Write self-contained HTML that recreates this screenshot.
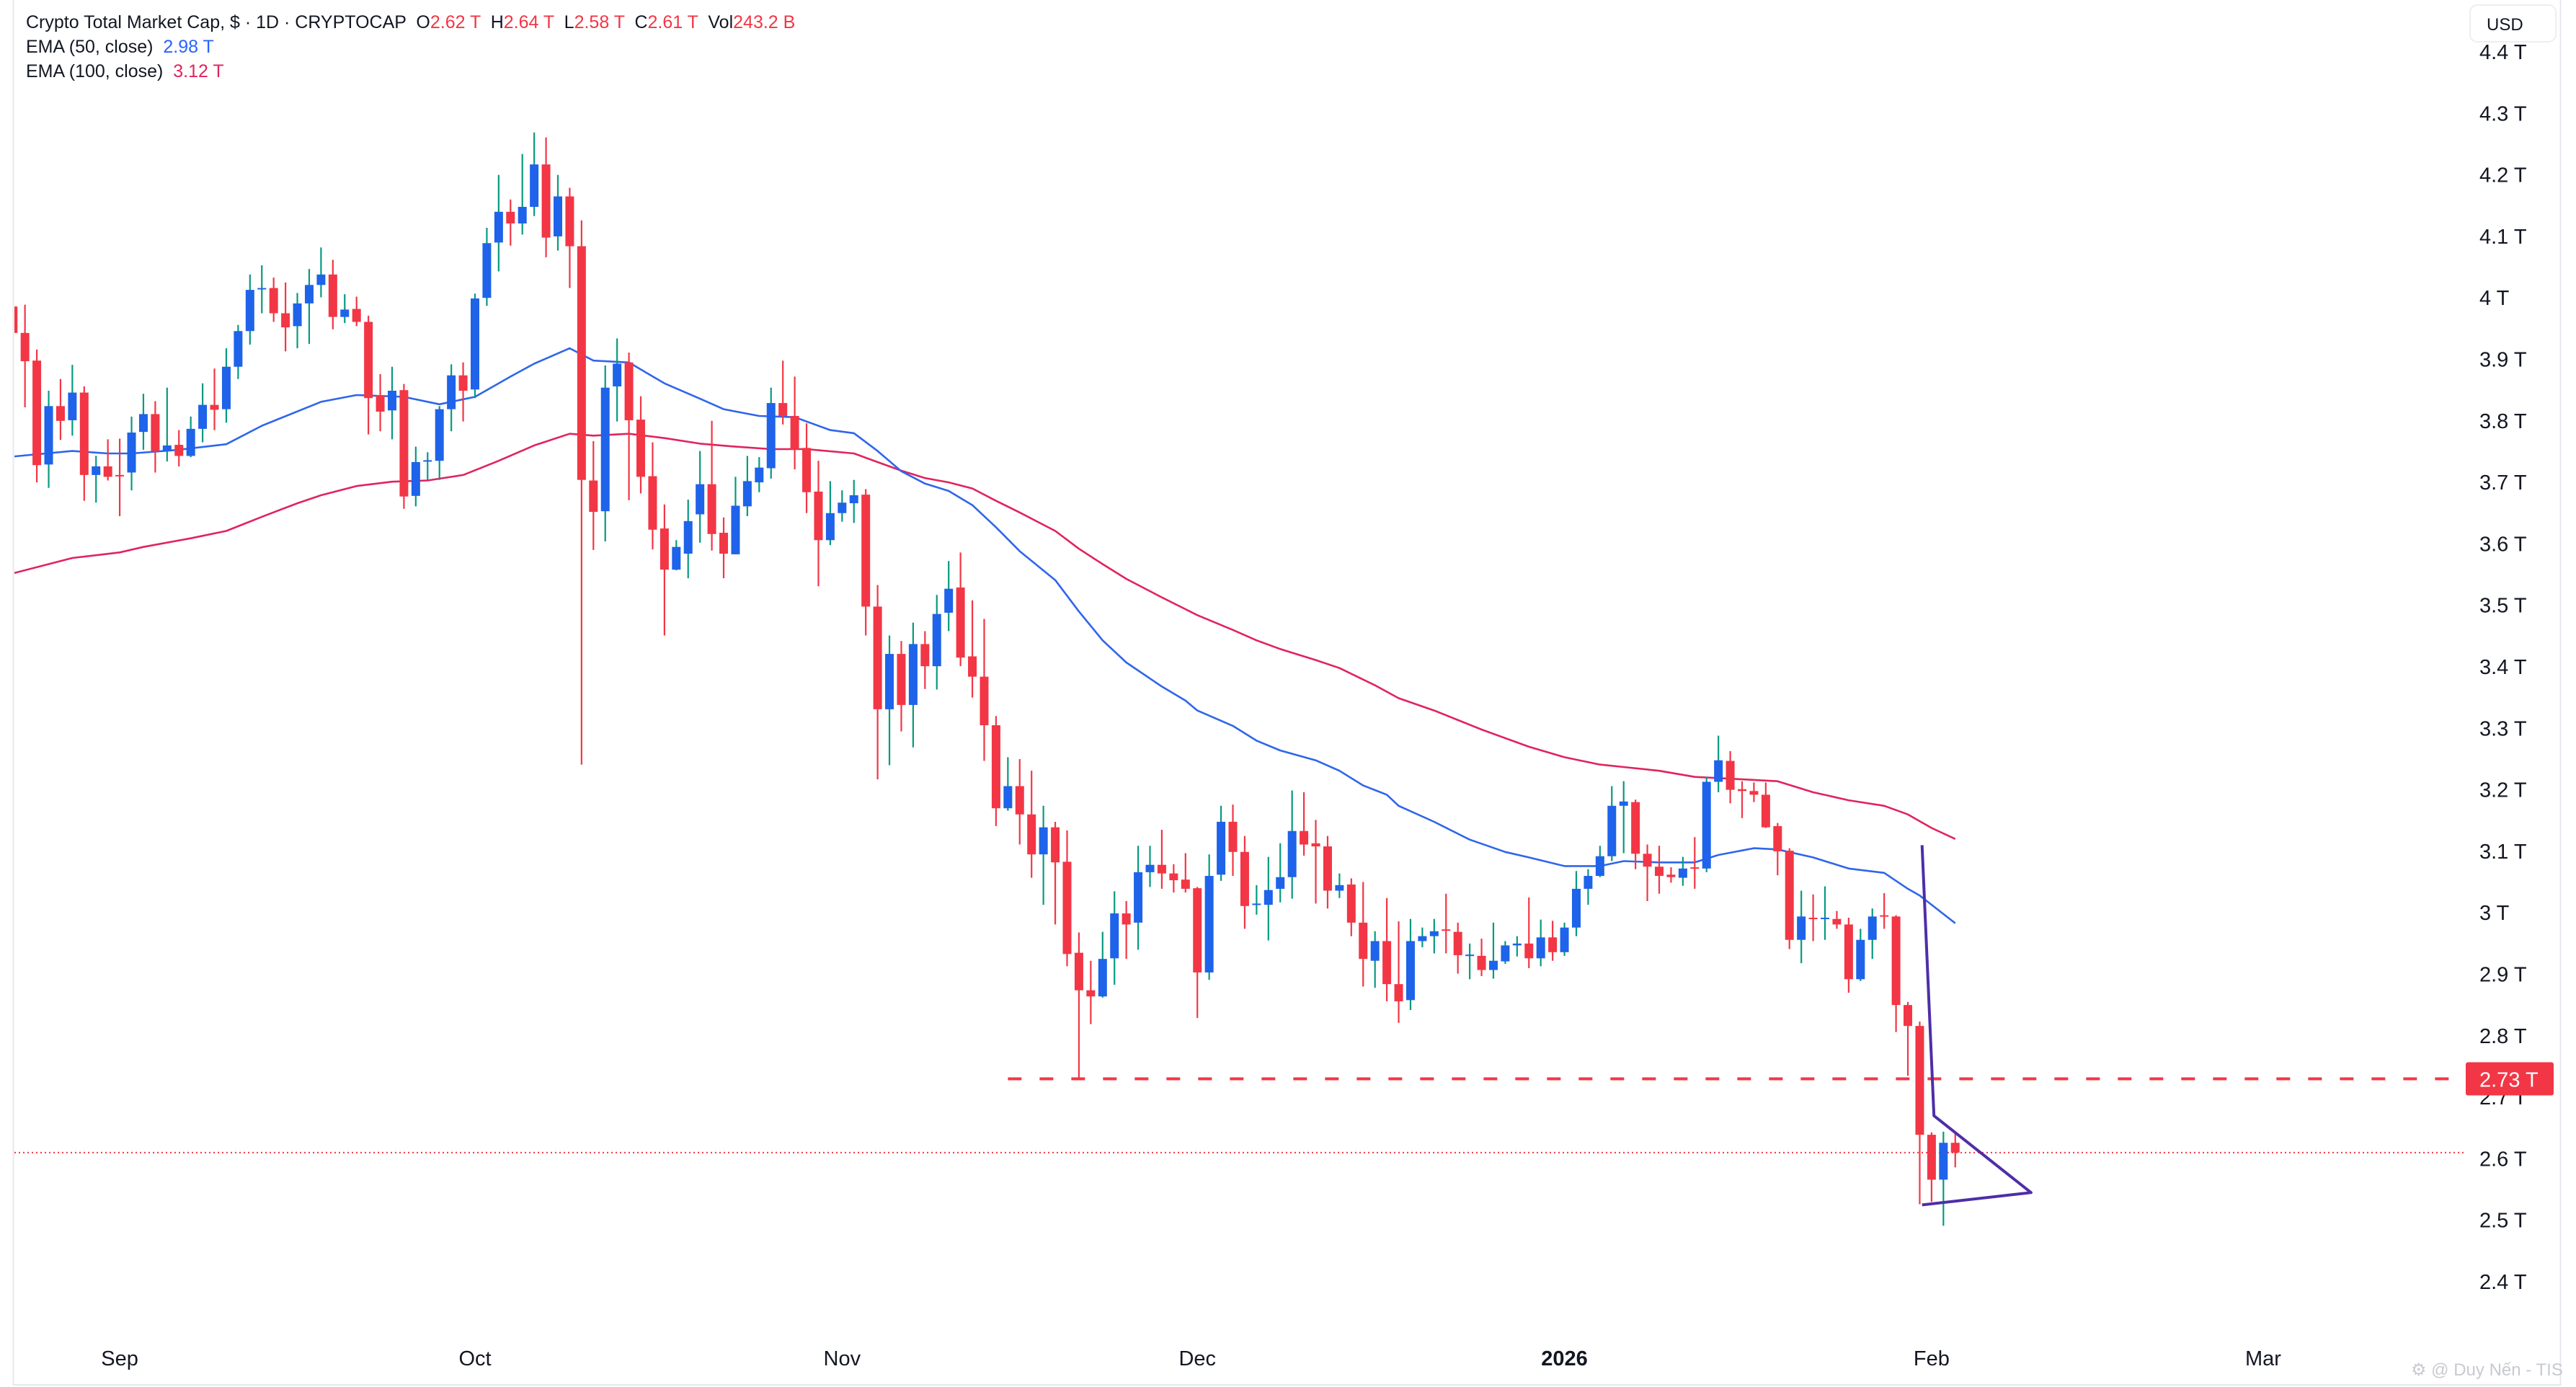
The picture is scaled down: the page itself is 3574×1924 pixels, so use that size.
<!DOCTYPE html>
<html><head><meta charset="utf-8"><style>
html,body{margin:0;padding:0;background:#fff;}
svg{display:block;font-family:"Liberation Sans",sans-serif;}
.pre{white-space:pre;}
</style></head><body>
<svg id="chart" width="3574" height="1924" viewBox="0 0 3574 1924" xmlns="http://www.w3.org/2000/svg">
<rect x="0" y="0" width="3574" height="1924" fill="#fff"/>
<rect x="18.5" y="-2" width="3534" height="1923" fill="none" stroke="#e6e8ee" stroke-width="2"/>
<g id="plot"></g>
<g id="axis"></g>
<g id="taxis"></g>
<g font-size="25">
<text class="pre" x="36" y="39" fill="#131722" xml:space="preserve">Crypto Total Market Cap, $ · 1D · CRYPTOCAP  O<tspan fill="#f23645">2.62 T</tspan>  H<tspan fill="#f23645">2.64 T</tspan>  L<tspan fill="#f23645">2.58 T</tspan>  C<tspan fill="#f23645">2.61 T</tspan>  Vol<tspan fill="#f23645">243.2 B</tspan></text>
<text class="pre" x="36" y="73" fill="#131722" xml:space="preserve">EMA (50, close)  <tspan fill="#2962ff">2.98 T</tspan></text>
<text class="pre" x="36" y="107" fill="#131722" xml:space="preserve">EMA (100, close)  <tspan fill="#e0245e">3.12 T</tspan></text>
</g>
<g>
<rect x="3427" y="7" width="119" height="51" rx="10" fill="#fff" stroke="#eceef2" stroke-width="2"/>
<text x="3450" y="42" font-size="24" fill="#131722">USD</text>
</g>
<text x="3345" y="1908" font-size="24" fill="#c8cad0">⚙ @ Duy Nến - TIS</text>
</svg>
<script>
const opens=[3.986,3.943,3.898,3.729,3.824,3.801,3.846,3.712,3.726,3.712,3.716,3.782,3.811,3.751,3.761,3.743,3.787,3.826,3.819,3.888,3.946,4.015,4.016,3.975,3.954,3.991,4.021,4.038,3.969,3.982,3.961,3.842,3.817,3.850,3.678,3.736,3.735,3.819,3.874,3.851,4.000,4.090,4.140,4.121,4.148,4.217,4.100,4.165,4.084,3.703,3.653,3.856,3.895,3.802,3.710,3.625,3.558,3.584,3.648,3.697,3.618,3.583,3.661,3.700,3.723,3.829,3.808,3.756,3.685,3.606,3.650,3.666,3.680,3.498,3.331,3.421,3.338,3.437,3.401,3.488,3.529,3.417,3.384,3.305,3.170,3.206,3.160,3.095,3.139,3.083,2.935,2.874,2.864,2.926,2.999,2.984,3.066,3.078,3.064,3.054,3.040,2.903,3.062,3.148,3.099,3.013,3.013,3.039,3.058,3.133,3.113,3.108,3.036,3.046,2.984,2.922,2.954,2.884,2.858,2.954,2.962,2.973,2.969,2.931,2.930,2.907,2.921,2.947,2.950,2.926,2.960,2.936,2.976,3.039,3.060,3.092,3.174,3.180,3.096,3.075,3.062,3.057,3.074,3.072,3.213,3.247,3.201,3.198,3.192,3.141,3.101,2.956,2.992,2.991,2.990,2.981,2.892,2.956,2.996,2.994,2.850,2.816,2.639,2.566,2.626];
const highs=[3.996,3.989,3.916,3.849,3.868,3.891,3.856,3.743,3.770,3.771,3.807,3.844,3.832,3.854,3.785,3.807,3.861,3.885,3.918,3.956,4.038,4.053,4.033,4.025,4.008,4.047,4.082,4.062,4.006,4.002,3.971,3.876,3.888,3.860,3.758,3.749,3.824,3.892,3.895,4.007,4.114,4.200,4.160,4.234,4.269,4.261,4.200,4.179,4.126,3.767,3.890,3.934,3.911,3.840,3.765,3.664,3.606,3.672,3.751,3.800,3.643,3.709,3.743,3.741,3.854,3.898,3.872,3.796,3.735,3.702,3.687,3.704,3.689,3.533,3.451,3.442,3.472,3.458,3.517,3.572,3.586,3.508,3.478,3.320,3.253,3.250,3.231,3.174,3.148,3.134,2.968,2.922,2.969,3.035,3.019,3.109,3.109,3.135,3.079,3.097,3.042,3.095,3.174,3.176,3.125,3.045,3.091,3.113,3.199,3.196,3.151,3.125,3.064,3.056,3.050,2.970,3.024,2.986,2.990,2.976,2.990,3.031,2.984,2.950,2.958,2.984,2.954,2.962,3.025,2.989,2.987,2.984,3.068,3.071,3.109,3.206,3.214,3.184,3.111,3.109,3.074,3.091,3.123,3.221,3.288,3.263,3.214,3.212,3.212,3.146,3.105,3.036,3.030,3.043,3.003,2.992,2.974,3.007,3.032,2.996,2.855,2.823,2.643,2.644,2.643];
const lows=[3.893,3.822,3.700,3.691,3.769,3.776,3.670,3.667,3.703,3.645,3.687,3.753,3.716,3.734,3.726,3.741,3.765,3.785,3.797,3.868,3.924,3.975,3.961,3.913,3.918,3.925,4.001,3.949,3.959,3.954,3.778,3.783,3.770,3.657,3.661,3.704,3.704,3.783,3.799,3.837,3.987,4.043,4.085,4.103,4.133,4.066,4.077,4.016,3.241,3.590,3.604,3.799,3.671,3.682,3.591,3.451,3.557,3.544,3.602,3.589,3.544,3.583,3.645,3.684,3.706,3.794,3.721,3.650,3.531,3.598,3.636,3.634,3.451,3.217,3.240,3.295,3.269,3.364,3.363,3.458,3.401,3.350,3.247,3.141,3.166,3.111,3.057,3.013,2.981,2.913,2.732,2.819,2.862,2.883,2.925,2.940,3.042,3.039,3.033,3.033,2.829,2.891,3.052,3.060,2.974,2.997,2.955,3.017,3.023,3.093,3.015,3.007,3.024,2.962,2.880,2.878,2.856,2.821,2.842,2.944,2.934,2.934,2.901,2.892,2.897,2.893,2.917,2.929,2.910,2.913,2.922,2.930,2.962,3.013,3.058,3.084,3.097,3.071,3.019,3.031,3.049,3.044,3.039,3.066,3.196,3.178,3.154,3.180,3.138,3.061,2.941,2.918,2.954,2.956,2.974,2.870,2.889,2.925,2.974,2.806,2.735,2.526,2.530,2.491,2.586];
const closes=[3.943,3.897,3.728,3.824,3.800,3.846,3.712,3.726,3.709,3.711,3.781,3.811,3.751,3.760,3.743,3.787,3.826,3.818,3.888,3.946,4.013,4.016,3.975,3.952,3.991,4.021,4.038,3.969,3.981,3.961,3.837,3.815,3.849,3.677,3.733,3.736,3.819,3.874,3.849,3.999,4.089,4.140,4.121,4.148,4.217,4.098,4.165,4.084,3.704,3.652,3.854,3.893,3.801,3.709,3.623,3.558,3.595,3.637,3.697,3.616,3.584,3.662,3.702,3.724,3.829,3.808,3.753,3.684,3.606,3.650,3.667,3.679,3.498,3.331,3.421,3.338,3.437,3.401,3.486,3.527,3.415,3.384,3.305,3.170,3.206,3.160,3.095,3.139,3.082,2.933,2.874,2.864,2.925,2.999,2.981,3.066,3.078,3.064,3.053,3.039,2.903,3.060,3.148,3.099,3.011,3.015,3.037,3.058,3.133,3.111,3.108,3.036,3.045,2.984,2.925,2.954,2.884,2.856,2.954,2.962,2.970,2.972,2.931,2.932,2.907,2.922,2.947,2.950,2.926,2.960,2.936,2.976,3.039,3.060,3.092,3.174,3.181,3.096,3.075,3.060,3.058,3.072,3.072,3.213,3.248,3.200,3.198,3.192,3.139,3.100,2.956,2.994,2.991,2.992,2.981,2.892,2.956,2.994,2.994,2.850,2.816,2.639,2.566,2.626,2.610];
const firstDay=-39; // candle 1 day offset from Oct 1
const ema50Idx=[1,6,9,11,15,19,22,27,30,34,37,40,43,45,48,50,53,56,59,61,64,67,70,72,74,76,78,80,82,84,86,89,91,93,95,98,100,101,104,106,108,111,113,115,117,118,121,124,127,129,132,135,137,140,143,145,148,150,153,156,159,161,162,165];
const ema50Val=[3.742,3.751,3.747,3.747,3.753,3.762,3.792,3.831,3.842,3.839,3.827,3.839,3.872,3.893,3.918,3.898,3.895,3.861,3.836,3.819,3.808,3.806,3.785,3.780,3.751,3.718,3.698,3.686,3.663,3.627,3.588,3.541,3.490,3.443,3.407,3.368,3.345,3.329,3.304,3.280,3.264,3.248,3.231,3.207,3.192,3.174,3.148,3.119,3.099,3.090,3.076,3.076,3.084,3.082,3.082,3.094,3.105,3.103,3.090,3.072,3.065,3.039,3.028,2.983];
const ema100Idx=[1,6,10,12,16,19,22,25,27,30,33,36,39,42,45,48,50,53,56,59,62,65,68,72,74,76,78,80,82,84,86,89,91,93,95,98,101,104,106,108,111,113,116,118,121,125,129,132,135,137,140,143,146,150,153,156,159,161,163,165];
const ema100Val=[3.552,3.577,3.586,3.595,3.609,3.621,3.644,3.666,3.679,3.694,3.701,3.703,3.712,3.735,3.760,3.779,3.776,3.779,3.772,3.763,3.758,3.754,3.754,3.747,3.733,3.719,3.707,3.700,3.690,3.670,3.651,3.621,3.592,3.567,3.543,3.513,3.484,3.460,3.443,3.429,3.411,3.398,3.370,3.349,3.329,3.298,3.270,3.253,3.241,3.237,3.231,3.221,3.218,3.214,3.196,3.183,3.174,3.160,3.138,3.120];
const priceTicks=[4.4,4.3,4.2,4.1,4.0,3.9,3.8,3.7,3.6,3.5,3.4,3.3,3.2,3.1,3.0,2.9,2.8,2.7,2.6,2.5,2.4];
const tickLabels=["4.4 T","4.3 T","4.2 T","4.1 T","4 T","3.9 T","3.8 T","3.7 T","3.6 T","3.5 T","3.4 T","3.3 T","3.2 T","3.1 T","3 T","2.9 T","2.8 T","2.7 T","2.6 T","2.5 T","2.4 T"];
const monthLabels=["Sep","Oct","Nov","Dec","2026","Feb","Mar"];
const monthDays=[-30,0,31,61,92,123,151];
const levelPrice=2.73, levelLabel="2.73 T", levelStartIdx=85;
const lastPrice=2.61;
// triangle drawing anchor points (candle index, price)
const triIdx=[162.2,163.2,171.4,162.2];
const triVal=[3.11,2.67,2.545,2.525];

const NS="http://www.w3.org/2000/svg";
const X0=659, DX=16.43, Y0=1778, PY=853, PLOT_R=3420;
function xDay(d){return X0+d*DX;}
function xIdx(i){return xDay(firstDay+(i-1));}
function yP(p){return Y0-(p-2.4)*PY;}
function mk(tag,attrs,parent){const e=document.createElementNS(NS,tag);for(const k in attrs)e.setAttribute(k,attrs[k]);parent.appendChild(e);return e;}
const plot=document.getElementById('plot');
const clip=mk('clipPath',{id:'pc'},document.getElementById('chart'));
mk('rect',{x:20,y:0,width:PLOT_R-20,height:1850},clip);
plot.setAttribute('clip-path','url(#pc)');

const lp=mk('line',{x1:20,x2:PLOT_R,y1:yP(lastPrice),y2:yP(lastPrice),stroke:'#f23645','stroke-width':2,'stroke-dasharray':'2 4'},plot);



function emaLine(idx,val,color,name){
  const pts=idx.map((v,k)=>xIdx(v).toFixed(1)+','+yP(val[k]).toFixed(1)).join(' ');
  const l=mk('polyline',{points:pts,fill:'none',stroke:color,'stroke-width':2.6,'stroke-linejoin':'round'},plot);
  
  
}
emaLine(ema100Idx,ema100Val,'#e0245e','ema100-line');
emaLine(ema50Idx,ema50Val,'#2f66ea','ema50-line');

for(let i=0;i<opens.length;i++){
  const o=opens[i],h=highs[i],l=lows[i],c=closes[i];
  const up=c>=o;
  const x=xIdx(i+1);
  const g=mk('g',{},plot);
  
  
  mk('line',{x1:x,x2:x,y1:yP(h),y2:yP(l),stroke:up?'#089981':'#f23645','stroke-width':2.2},g);
  const top=yP(Math.max(o,c)), bot=yP(Math.min(o,c));
  mk('rect',{x:x-6,y:top,width:12,height:Math.max(bot-top,2),fill:up?'#1e63e9':'#f23645'},g);
}

const lv=mk('line',{x1:xIdx(levelStartIdx),x2:PLOT_R,y1:yP(levelPrice),y2:yP(levelPrice),stroke:'#f23645','stroke-width':4,'stroke-dasharray':'19 25'},plot);



const tp=triIdx.map((v,k)=>xIdx(v).toFixed(1)+','+yP(triVal[k]).toFixed(1)).join(' ');
const tri=mk('polyline',{points:tp,fill:'none',stroke:'#4e2ea8','stroke-width':4,'stroke-linejoin':'round'},plot);



const ax=document.getElementById('axis');
priceTicks.forEach((p,k)=>{
  const t=mk('text',{x:3440,y:yP(p)+10,'font-size':29,fill:'#131722'},ax);
  t.textContent=tickLabels[k];
  
  
});
const lb=mk('g',{},ax);


mk('rect',{x:3421,y:yP(levelPrice)-23,width:122,height:46,rx:3,fill:'#f23645'},lb);
const lt=mk('text',{x:3440,y:yP(levelPrice)+11,'font-size':29,fill:'#fff'},lb);
lt.textContent=levelLabel;

const ta=document.getElementById('taxis');
monthLabels.forEach((m,k)=>{
  const t=mk('text',{x:xDay(monthDays[k]),y:1894,'font-size':29,fill:'#131722','text-anchor':'middle','font-weight':m==='2026'?'bold':'normal'},ta);
  t.textContent=m;
  
  
});
</script>
</body></html>
